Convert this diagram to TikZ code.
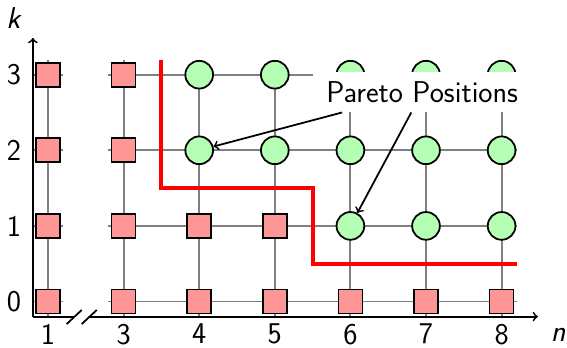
\documentclass[tikz,border=0pt]{standalone}
\usetikzlibrary{calc}
\definecolor{sqfill}{RGB}{255,150,150}
\definecolor{cifill}{RGB}{180,255,180}
\begin{document}
\begin{tikzpicture}[x=1.5cm,y=1.5cm,
  font=\sffamily\fontsize{17}{20}\selectfont,
  gridline/.style={draw=gray, line width=1.1pt},
  sq/.style={draw, fill=sqfill, minimum size=0.476cm, inner sep=0pt, line width=1pt},
  ci/.style={circle, draw, fill=cifill, minimum size=0.55cm, inner sep=0pt, line width=1pt},
  axisline/.style={line width=1pt},
  pointer/.style={line width=1pt,->},
  ticklabel/.style={inner sep=0pt, text depth=0pt},
  frontier/.style={draw=red, line width=2.2pt}]
\useasboundingbox (-0.635,-0.602) rectangle (6.865,3.988);

% grid: isolated column for n=1, main block for n=3..8
\foreach \r in {0,...,3} {
  \draw[gridline] (-0.2,\r) -- (0.2,\r);
  \draw[gridline] (0.8,\r) -- (6.2,\r);
}
\draw[gridline] (0,-0.2) -- (0,3.2);
\foreach \c in {1,...,6} \draw[gridline] (\c,-0.2) -- (\c,3.2);

% Pareto frontier
\draw[frontier] (1.5,3.2) -- (1.5,1.5) -- (3.5,1.5) -- (3.5,0.5) -- (6.2,0.5);

% axes with a break between n=1 and n=3
\draw[axisline,->] (-0.2,-0.2) -- (-0.2,3.485);
\draw[axisline] (-0.2,-0.2) -- (0.35,-0.2);
\draw[axisline,->] (0.55,-0.2) -- (6.48,-0.2);
\draw[axisline] (0.247,-0.298) -- (0.446,-0.112);
\draw[axisline] (0.446,-0.298) -- (0.645,-0.112);

% positions
\foreach \c in {0,...,6} \node[sq] (n-\c-0) at (\c,0) {};
\foreach \c in {0,...,3} \node[sq] (n-\c-1) at (\c,1) {};
\foreach \c in {4,...,6} \node[ci] (n-\c-1) at (\c,1) {};
\foreach \r in {2,3} {
  \foreach \c in {0,1} \node[sq] (n-\c-\r) at (\c,\r) {};
  \foreach \c in {2,...,6} \node[ci] (n-\c-\r) at (\c,\r) {};
}

% tick labels
\foreach \c/\t in {0/1,1/3,2/4,3/5,4/6,5/7,6/8}
  \node[ticklabel] (xl-\c) at (\c,-0.43) {\t};
\foreach \r in {0,...,3}
  \node[ticklabel] (yl-\r) at (-0.45,\r) {\r};
\node (klabel) at (-0.45,3.75) {\textit{k}};
\node (nlabel) at (6.75,-0.44) {\textit{n}};

% annotation
\node[fill=white, minimum width=2.9*1.5cm, minimum height=0.53*1.5cm, inner sep=0pt]
  (par) at (4.95,2.77) {Pareto Positions};
\coordinate (p1) at ($(par.south west)+(0.395,0)$);
\coordinate (p2) at ($(par.south west)+(1.31,0)$);
\draw[pointer] (p1) -- (n-2-2);
\draw[pointer] (p2) -- (n-4-1);
\end{tikzpicture}
\end{document}
